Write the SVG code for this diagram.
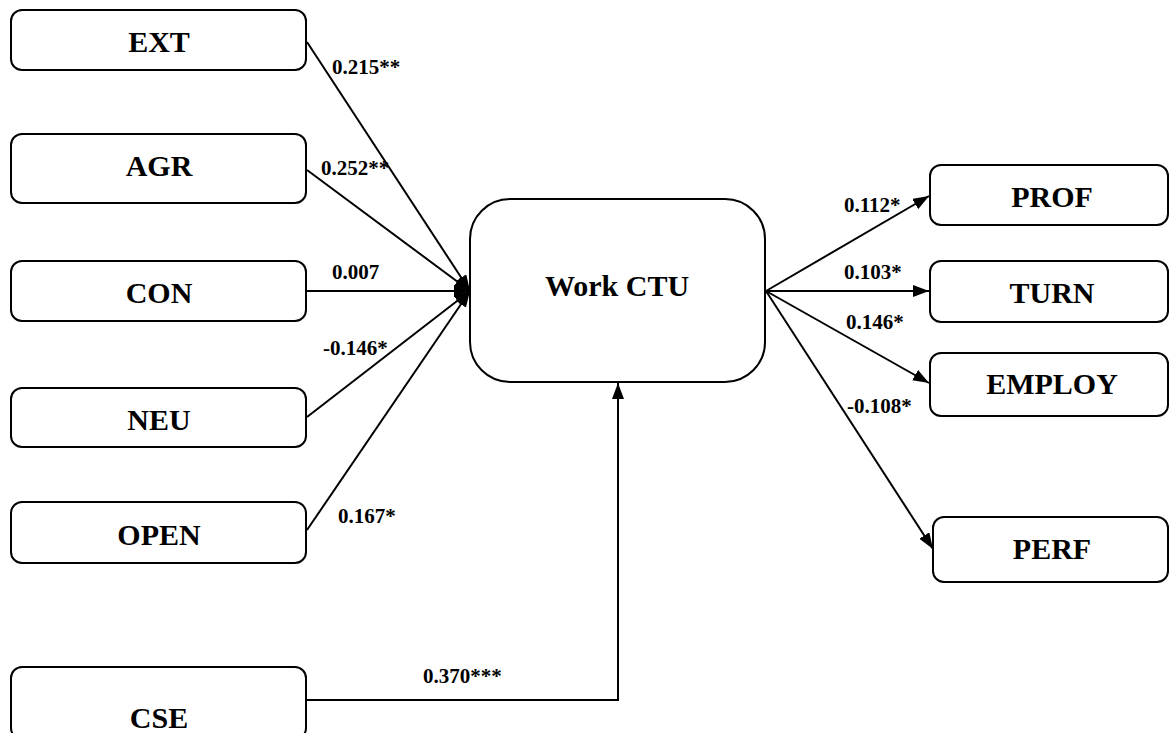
<svg xmlns="http://www.w3.org/2000/svg" width="1170" height="733" viewBox="0 0 1170 733">
  <style>
    .box { fill: #ffffff; stroke: #000000; stroke-width: 2; }
    .name { font-family: "Liberation Serif", "Times New Roman", serif; font-weight: bold; font-size: 30px; fill: #000000; text-anchor: middle; }
    .coef { font-family: "Liberation Serif", "Times New Roman", serif; font-weight: bold; font-size: 21px; fill: #000000; }
    .link { fill: none; stroke: #000000; stroke-width: 2; }
  </style>
  <defs>
    <marker id="arrow" viewBox="0 0 16 12" refX="16" refY="6" markerWidth="16" markerHeight="12" markerUnits="userSpaceOnUse" orient="auto">
      <path d="M0,0 L16,6 L0,12 Z" fill="#000000"/>
    </marker>
  </defs>
  <rect width="1170" height="733" fill="#ffffff"/>

  <!-- connectors -->
  <g id="connectors">
    <line class="link" x1="307" y1="42" x2="470" y2="291" marker-end="url(#arrow)"/>
    <line class="link" x1="307" y1="170" x2="470" y2="291" marker-end="url(#arrow)"/>
    <line class="link" x1="307" y1="291" x2="470" y2="291" marker-end="url(#arrow)"/>
    <line class="link" x1="307" y1="417" x2="470" y2="291" marker-end="url(#arrow)"/>
    <line class="link" x1="307" y1="530" x2="470" y2="291" marker-end="url(#arrow)"/>
    <polyline class="link" points="307,700 618,700 618,383" marker-end="url(#arrow)"/>
    <line class="link" x1="766" y1="291" x2="929" y2="196" marker-end="url(#arrow)"/>
    <line class="link" x1="766" y1="291" x2="929" y2="291" marker-end="url(#arrow)"/>
    <line class="link" x1="766" y1="291" x2="929" y2="383" marker-end="url(#arrow)"/>
    <line class="link" x1="766" y1="291" x2="933" y2="549" marker-end="url(#arrow)"/>

    <text class="coef" x="332" y="74">0.215**</text>
    <text class="coef" x="321" y="175">0.252**</text>
    <text class="coef" x="332" y="279">0.007</text>
    <text class="coef" x="323" y="355">-0.146*</text>
    <text class="coef" x="338" y="523">0.167*</text>
    <text class="coef" x="423" y="683">0.370***</text>
    <text class="coef" x="844" y="212">0.112*</text>
    <text class="coef" x="844" y="279">0.103*</text>
    <text class="coef" x="846" y="329">0.146*</text>
    <text class="coef" x="847" y="413">-0.108*</text>
  </g>

  <!-- predictors -->
  <g id="EXT">
    <rect class="box" x="11" y="10" width="295" height="60" rx="11"/>
    <text class="name" x="159" y="52">EXT</text>
  </g>
  <g id="AGR">
    <rect class="box" x="11" y="134" width="295" height="69" rx="11"/>
    <text class="name" x="159" y="176">AGR</text>
  </g>
  <g id="CON">
    <rect class="box" x="11" y="261" width="295" height="60" rx="11"/>
    <text class="name" x="159" y="303">CON</text>
  </g>
  <g id="NEU">
    <rect class="box" x="11" y="388" width="295" height="59" rx="11"/>
    <text class="name" x="159" y="430">NEU</text>
  </g>
  <g id="OPEN">
    <rect class="box" x="11" y="502" width="295" height="61" rx="11"/>
    <text class="name" x="159" y="545">OPEN</text>
  </g>
  <g id="CSE">
    <rect class="box" x="11" y="667" width="295" height="72" rx="11"/>
    <text class="name" x="159" y="728">CSE</text>
  </g>

  <!-- mediator -->
  <g id="WorkCTU">
    <rect class="box" x="470" y="199" width="295" height="183" rx="40"/>
    <text class="name" x="617" y="296">Work CTU</text>
  </g>

  <!-- outcomes -->
  <g id="PROF">
    <rect class="box" x="930" y="165" width="238" height="60" rx="11"/>
    <text class="name" x="1052" y="207">PROF</text>
  </g>
  <g id="TURN">
    <rect class="box" x="930" y="261" width="238" height="61" rx="11"/>
    <text class="name" x="1052" y="303">TURN</text>
  </g>
  <g id="EMPLOY">
    <rect class="box" x="930" y="353" width="238" height="63" rx="11"/>
    <text class="name" x="1052" y="394">EMPLOY</text>
  </g>
  <g id="PERF">
    <rect class="box" x="933" y="517" width="235" height="65" rx="11"/>
    <text class="name" x="1052" y="559">PERF</text>
  </g>
</svg>
